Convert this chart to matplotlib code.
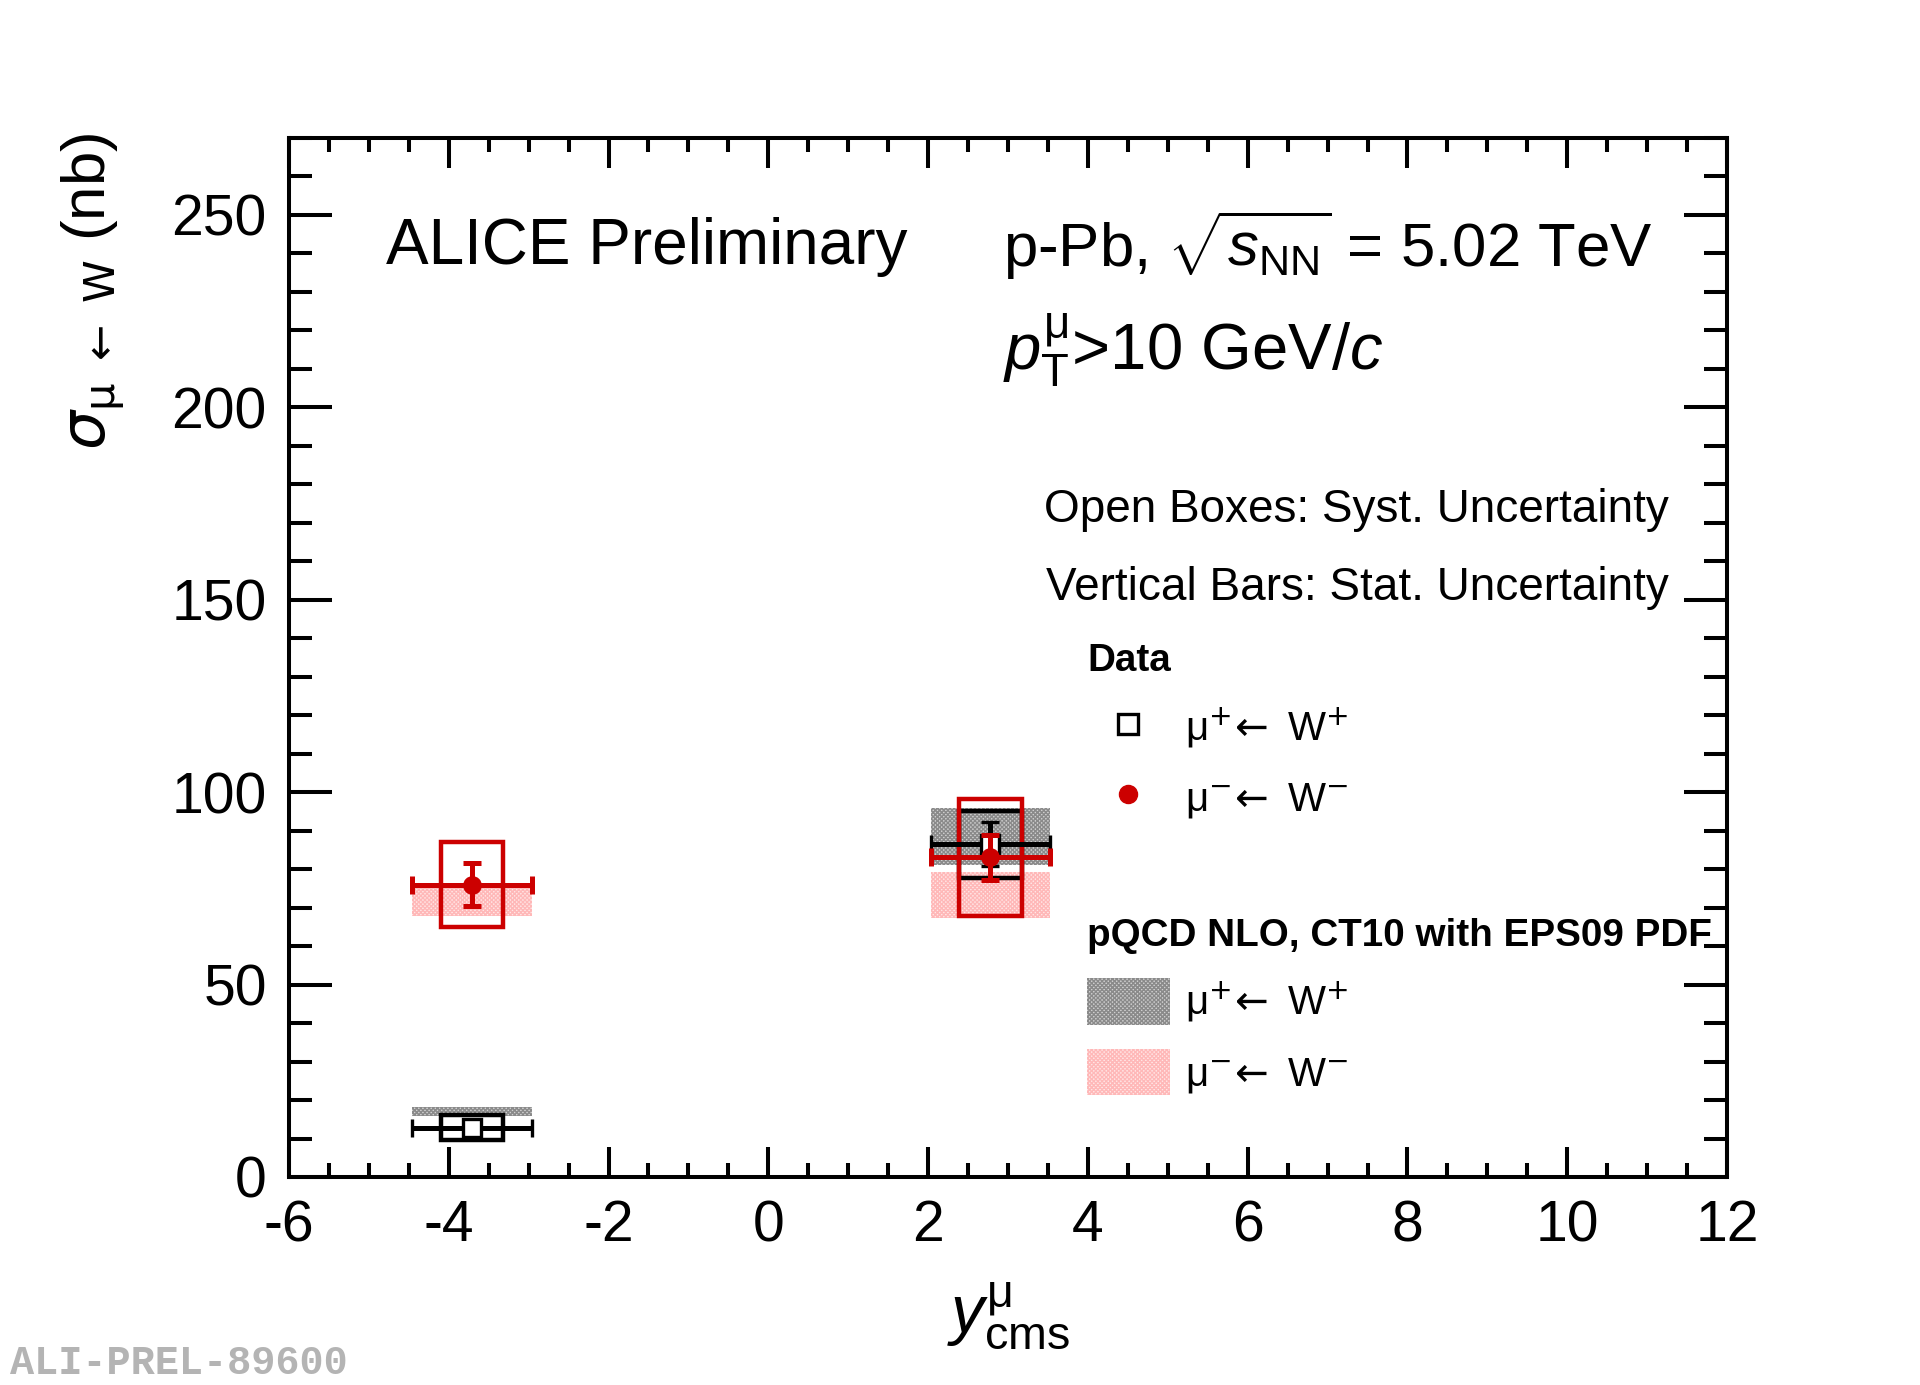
import matplotlib
matplotlib.use("Agg")
import matplotlib.pyplot as plt
from matplotlib.lines import Line2D
from matplotlib.patches import Patch
from matplotlib.ticker import MultipleLocator

plt.rcParams['font.family'] = ['Liberation Sans', 'DejaVu Sans']
plt.rcParams['mathtext.fontset'] = 'custom'
plt.rcParams['mathtext.rm'] = 'Liberation Sans'
plt.rcParams['mathtext.it'] = 'Liberation Sans:italic'
plt.rcParams['mathtext.bf'] = 'Liberation Sans:bold'
plt.rcParams['axes.unicode_minus'] = False

# rapidity bins (centre and half width)
y_cms = [-3.71, 2.78]
y_half = [0.75, 0.75]

# data: mu+ <- W+ and mu- <- W-  (nb)
wplus = [12.8, 86.5]
wplus_stat = [1.2, 5.7]
wplus_syst = [3.3, 8.7]
wminus = [76.0, 83.1]
wminus_stat = [5.6, 5.9]
wminus_syst = [11.0, 15.2]

# pQCD NLO, CT10 + EPS09 bands
th_plus_lo = [15.9, 81.2]
th_plus_hi = [18.2, 95.8]
th_minus_lo = [67.7, 67.4]
th_minus_hi = [75.3, 79.2]

RED = '#cc0000'
GREY_FACE, GREY_HATCH = '#cfcfcf', '#8a8a8a'
PINK_FACE, PINK_HATCH = '#ffe6e6', '#ffb8b8'
BOX_HALF = 0.39
W, H = 1920, 1385


def fx(px):
    return px / W


def fy(py):
    return 1 - py / H


fig = plt.figure(figsize=(19.2, 13.85), dpi=100)
ax = fig.add_axes([fx(289), fy(1177), fx(1727) - fx(289), fy(138) - fy(1177)])

# theory bands
band_w = [2 * h for h in y_half]
ax.bar(y_cms, [h - l for l, h in zip(th_plus_lo, th_plus_hi)], bottom=th_plus_lo,
       width=band_w, color=GREY_FACE, edgecolor=GREY_HATCH, hatch='xxxxxxxx', linewidth=0, zorder=1)
ax.bar(y_cms, [h - l for l, h in zip(th_minus_lo, th_minus_hi)], bottom=th_minus_lo,
       width=band_w, color=PINK_FACE, edgecolor=PINK_HATCH, hatch='xxxxxxxx', linewidth=0, zorder=1)

# systematic boxes
ax.bar(y_cms, [2 * s for s in wplus_syst], bottom=[v - s for v, s in zip(wplus, wplus_syst)],
       width=2 * BOX_HALF, fill=False, edgecolor='black', linewidth=3.2, zorder=3)
ax.bar(y_cms, [2 * s for s in wminus_syst], bottom=[v - s for v, s in zip(wminus, wminus_syst)],
       width=2 * BOX_HALF, fill=False, edgecolor=RED, linewidth=3.2, zorder=4)

# stat errors
ax.errorbar(y_cms, wplus, xerr=y_half, yerr=wplus_stat, fmt='s', color='black', mfc='white',
            mec='black', ms=13, mew=2.4, elinewidth=3.6, capsize=6.5, capthick=3.6, zorder=5)
ax.errorbar(y_cms, wminus, xerr=y_half, yerr=wminus_stat, fmt='o', color=RED,
            ms=12.5, elinewidth=3.6, capsize=6.5, capthick=3.6, zorder=6)

ax.set_xlim(-6, 12)
ax.set_ylim(0, 270)
ax.xaxis.set_major_locator(MultipleLocator(2))
ax.xaxis.set_minor_locator(MultipleLocator(0.5))
ax.yaxis.set_major_locator(MultipleLocator(50))
ax.yaxis.set_minor_locator(MultipleLocator(10))
ax.tick_params(which='both', direction='in', top=True, right=True, width=2.9, labelsize=41)
ax.tick_params(axis='x', which='major', length=21.6, pad=16)
ax.tick_params(axis='x', which='minor', length=10)
ax.tick_params(axis='y', which='major', length=31, pad=16)
ax.tick_params(axis='y', which='minor', length=16.5)
for sp in ax.spines.values():
    sp.set_linewidth(2.9)

# axis titles
fig.text(fx(93), fy(133), r'$\sigma_{\mathrm{\mu}\ \leftarrow\ \mathrm{W}}$ (nb)', rotation=90,
         ha='center', va='top', fontsize=44.5, math_fontfamily='dejavusans')
fig.text(fx(1008), fy(1352), r'$y^{\mathrm{\mu}}_{\mathrm{cms}}$', ha='center', va='bottom', fontsize=48)

# labels
fig.text(fx(386), fy(264), 'ALICE Preliminary', fontsize=46, va='baseline')
fig.text(fx(1003), fy(267), r'p-Pb, $\sqrt{s_{\mathrm{NN}}}$ = 5.02 TeV', fontsize=44.5, va='baseline')
fig.text(fx(1003), fy(370), r'$p_{\mathrm{T}}^{\mathrm{\mu}}$>10 GeV/$c$', fontsize=47, va='baseline')
fig.text(fx(1669), fy(522), 'Open Boxes: Syst. Uncertainty', fontsize=33, ha='right', va='baseline')
fig.text(fx(1669), fy(600), 'Vertical Bars: Stat. Uncertainty', fontsize=33, ha='right', va='baseline')
fig.text(fx(10), fy(1374), 'ALI-PREL-89600', fontsize=29, family='Liberation Mono',
         weight='bold', color='#b4b4b4', va='baseline')

lab_plus = r'μ$^{+}\!\leftarrow$ W$^{+}$'
lab_minus = r'μ$^{-}\!\leftarrow$ W$^{-}$'
leg_font = {'size': 29, 'math_fontfamily': 'dejavusans'}
title_font = {'weight': 'bold', 'size': 27.8}

data_handles = [
    Line2D([], [], ls='none', marker='s', mfc='none', mec='black', ms=14, mew=2.4),
    Line2D([], [], ls='none', marker='o', color=RED, ms=13),
]
leg1 = ax.legend(data_handles, [lab_plus, lab_minus], title='Data', loc='upper left',
                 bbox_to_anchor=(fx(1087), fy(643)), bbox_transform=fig.transFigure,
                 frameon=False, prop=leg_font, title_fontproperties=title_font,
                 alignment='left', handlelength=2.06, handleheight=1.14, handletextpad=0.37,
                 labelspacing=0.66, borderpad=0, borderaxespad=0)
ax.add_artist(leg1)

th_handles = [
    Patch(facecolor=GREY_FACE, edgecolor=GREY_HATCH, hatch='xxxxxxxx', linewidth=0),
    Patch(facecolor=PINK_FACE, edgecolor=PINK_HATCH, hatch='xxxxxxxx', linewidth=0),
]
ax.legend(th_handles, [lab_plus, lab_minus], title='pQCD NLO, CT10 with EPS09 PDF', loc='upper left',
          bbox_to_anchor=(fx(1087), fy(918)), bbox_transform=fig.transFigure,
          frameon=False, prop=leg_font, title_fontproperties=title_font,
          alignment='left', handlelength=2.06, handleheight=1.4, handletextpad=0.37,
          labelspacing=0.6, borderpad=0, borderaxespad=0)

fig.savefig('out.png', dpi=100)
